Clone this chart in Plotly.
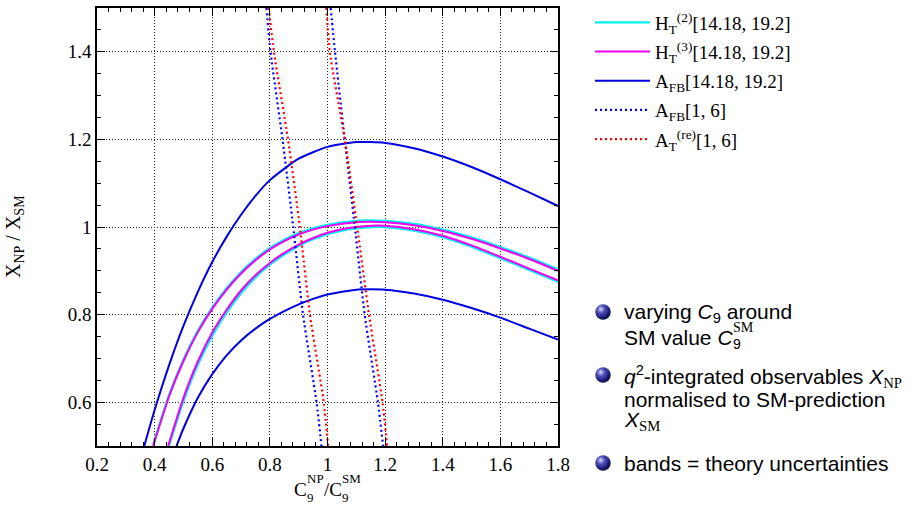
import base64
import plotly.graph_objects as go

# ---------------- data ----------------
# H_T^(3)[14.18, 19.2] band (magenta)
ht3_up_x = [0.395, 0.45, 0.50, 0.55, 0.60, 0.65, 0.70, 0.75, 0.80, 0.85, 0.90, 0.95, 1.00,
            1.10, 1.15, 1.20, 1.30, 1.40, 1.50, 1.60, 1.70, 1.80]
ht3_up_y = [0.500, 0.613, 0.694, 0.760, 0.813, 0.857, 0.894, 0.924, 0.949, 0.968, 0.983, 0.994, 1.002,
            1.011, 1.012, 1.011, 1.004, 0.991, 0.973, 0.951, 0.927, 0.900]
ht3_lo_x = [0.447, 0.50, 0.55, 0.60, 0.65, 0.70, 0.75, 0.80, 0.85, 0.90, 0.95, 1.00, 1.05,
            1.10, 1.15, 1.20, 1.30, 1.40, 1.50, 1.60, 1.70, 1.80]
ht3_lo_y = [0.500, 0.610, 0.693, 0.759, 0.811, 0.855, 0.890, 0.918, 0.941, 0.960, 0.975, 0.987, 0.995,
            1.000, 1.003, 1.003, 0.995, 0.980, 0.958, 0.932, 0.905, 0.878]

# H_T^(2)[14.18, 19.2] band (cyan, marginally wider than the magenta one)
ht2_up_x = ht3_up_x
ht2_up_y = [0.503, 0.616, 0.697, 0.763, 0.816, 0.860, 0.897, 0.927, 0.952, 0.971, 0.986, 0.997, 1.005,
            1.014, 1.015, 1.014, 1.007, 0.994, 0.976, 0.954, 0.930, 0.903]
ht2_lo_x = ht3_lo_x
ht2_lo_y = [0.495, 0.603, 0.686, 0.752, 0.805, 0.849, 0.885, 0.914, 0.937, 0.957, 0.972, 0.984, 0.992,
            0.997, 1.000, 1.000, 0.992, 0.977, 0.955, 0.929, 0.902, 0.875]

# A_FB[14.18, 19.2] band (blue solid)
afbh_up_x = [0.364, 0.40, 0.45, 0.50, 0.55, 0.60, 0.65, 0.70, 0.75, 0.80, 0.90, 1.00,
             1.10, 1.20, 1.30, 1.40, 1.50, 1.60, 1.70, 1.80]
afbh_up_y = [0.500, 0.582, 0.684, 0.774, 0.852, 0.920, 0.978, 1.028, 1.071, 1.107, 1.156, 1.183,
             1.194, 1.192, 1.180, 1.161, 1.137, 1.109, 1.079, 1.048]
afbh_lo_x = [0.476, 0.50, 0.55, 0.60, 0.65, 0.70, 0.75, 0.80, 0.85, 0.90, 0.95, 1.00,
             1.10, 1.15, 1.20, 1.30, 1.40, 1.50, 1.60, 1.70, 1.80]
afbh_lo_y = [0.500, 0.540, 0.610, 0.664, 0.707, 0.741, 0.768, 0.790, 0.808, 0.8235, 0.836, 0.846,
             0.857, 0.858, 0.857, 0.848, 0.834, 0.815, 0.793, 0.768, 0.743]

# A_FB[1, 6] band (blue dotted)
afbl_a_x = [0.788, 0.802, 0.844, 0.881, 0.915, 0.962, 0.979]
afbl_a_y = [1.50, 1.40, 1.20, 1.00, 0.80, 0.60, 0.50]
afbl_b_x = [1.011, 1.026, 1.060, 1.095, 1.129, 1.175, 1.193]
afbl_b_y = [1.50, 1.40, 1.20, 1.00, 0.80, 0.60, 0.50]

# A_T^(re)[1, 6] band (red dotted)
atre_a_x = [0.796, 0.814, 0.863, 0.904, 0.939, 0.987, 1.002]
atre_a_y = [1.50, 1.40, 1.20, 1.00, 0.80, 0.60, 0.50]
atre_b_x = [0.996, 1.008, 1.060, 1.103, 1.144, 1.191, 1.207]
atre_b_y = [1.50, 1.40, 1.20, 1.00, 0.80, 0.60, 0.50]

legend_names = [
    "H<sub>T</sub><sup>(2)</sup>[14.18, 19.2]",
    "H<sub>T</sub><sup>(3)</sup>[14.18, 19.2]",
    "A<sub>FB</sub>[14.18, 19.2]",
    "A<sub>FB</sub>[1, 6]",
    "A<sub>T</sub><sup>(re)</sup>[1, 6]",
]

x_range = [0.2, 1.8]
y_range = [0.5, 1.5]

# ---------------- layout geometry ----------------
W, H = 912, 508
L, R, T, B = 97, 354, 8, 62
PW = W - L - R
PH = H - T - B


def fx(px):
    return (px - L) / PW


def fy(py):
    return (H - B - py) / PH


SERIF = "Liberation Serif, Times New Roman, serif"
SANS = "Liberation Sans, Arial, sans-serif"

CYAN = "#00f0f0"
MAGENTA = "#f000f0"
BLUE = "#0000e0"
DBLUE = "#0000ff"
RED = "#ff0000"

fig = go.Figure()


def add_band(xs1, ys1, xs2, ys2, name, color, width, dash, group):
    for i, (xs, ys) in enumerate(((xs1, ys1), (xs2, ys2))):
        fig.add_trace(go.Scatter(x=xs, y=ys, mode="lines", name=name, legendgroup=group,
                                 showlegend=(i == 0),
                                 line=dict(color=color, width=width, dash=dash, shape="spline", smoothing=0.6),
                                 hoverinfo="skip"))


add_band(ht2_up_x, ht2_up_y, ht2_lo_x, ht2_lo_y, legend_names[0], CYAN, 2.4, "solid", "g1")
add_band(ht3_up_x, ht3_up_y, ht3_lo_x, ht3_lo_y, legend_names[1], MAGENTA, 2.0, "solid", "g2")
add_band(afbh_up_x, afbh_up_y, afbh_lo_x, afbh_lo_y, legend_names[2], BLUE, 2.0, "solid", "g3")
add_band(afbl_a_x, afbl_a_y, afbl_b_x, afbl_b_y, legend_names[3], DBLUE, 2.2, "2px,3px", "g4")
add_band(atre_a_x, atre_a_y, atre_b_x, atre_b_y, legend_names[4], RED, 2.2, "2px,3px", "g5")

axis_common = dict(
    showline=True, linecolor="black", linewidth=1.5, mirror="ticks",
    ticks="inside", ticklen=8, tickwidth=1, tickcolor="black",
    showgrid=True, gridcolor="#222222", gridwidth=1, griddash="1px,2px",
    zeroline=False, tickfont=dict(family=SERIF, size=19, color="black"),
)

# shaded sphere used as bullet point
sphere_svg = (
    "<svg xmlns='http://www.w3.org/2000/svg' width='64' height='64' viewBox='0 0 64 64'>"
    "<defs><radialGradient id='g' cx='0.36' cy='0.32' r='0.72'>"
    "<stop offset='0' stop-color='#d8d8ff'/>"
    "<stop offset='0.35' stop-color='#5050b8'/>"
    "<stop offset='0.75' stop-color='#1c1c78'/>"
    "<stop offset='1' stop-color='#08083a'/>"
    "</radialGradient></defs>"
    "<circle cx='32' cy='32' r='31' fill='url(#g)'/></svg>"
)
sphere_src = "data:image/svg+xml;base64," + base64.b64encode(sphere_svg.encode()).decode()
bullet_centers = [(603, 312), (603, 375), (603, 463)]
BD = 16
images = [dict(source=sphere_src, xref="paper", yref="paper",
               x=fx(cx - BD / 2), y=fy(cy - BD / 2), sizex=BD / PW, sizey=BD / PH,
               xanchor="left", yanchor="top", sizing="stretch", layer="above")
          for cx, cy in bullet_centers]

fig.update_layout(
    width=W, height=H,
    margin=dict(l=L, r=R, t=T, b=B, autoexpand=False),
    paper_bgcolor="white", plot_bgcolor="white",
    xaxis=dict(range=x_range, tick0=0.2, dtick=0.2,
               minor=dict(dtick=0.04, ticks="inside", ticklen=4, tickcolor="black", showgrid=False),
               **axis_common),
    yaxis=dict(range=y_range, tick0=0.2, dtick=0.2,
               minor=dict(dtick=0.05, ticks="inside", ticklen=4, tickcolor="black", showgrid=False),
               **axis_common),
    showlegend=True,
    legend=dict(x=fx(590), y=1.0 - 3.5 / H, yref="container", xanchor="left", yanchor="top",
                font=dict(family=SERIF, size=19, color="black"),
                bgcolor="rgba(0,0,0,0)", tracegroupgap=1.5, itemwidth=55),
    images=images,
)

ann = []


def text(px, py, s, size, family, xanchor="left", yanchor="middle", angle=0):
    ann.append(dict(x=fx(px), y=fy(py), xref="paper", yref="paper", text=s, showarrow=False,
                    xanchor=xanchor, yanchor=yanchor, textangle=angle,
                    font=dict(family=family, size=size, color="black")))


# y-axis title
text(15, 237, "X<sub>NP</sub> / X<sub>SM</sub>", 20, SERIF, xanchor="center", angle=-90)

# x-axis title with stacked scripts
text(292, 489, "C", 19, SERIF)
text(305, 497, "9", 13, SERIF)
text(305, 478, "NP", 13, SERIF)
text(322, 489, "/C", 19, SERIF)
text(340, 497, "9", 13, SERIF)
text(340, 478, "SM", 13, SERIF)

# bullet texts
text(622, 313, "varying <i>C</i><sub>9</sub> around", 21, SANS)
text(622, 337, "SM value <i>C</i>", 21, SANS)
text(731, 344, "9", 14, SANS)
text(731, 327, "SM", 14, SERIF)
text(622, 376, "<i>q</i><sup>2</sup>-integrated observables <i>X</i>"
               "<sub><span style='font-family:Liberation Serif'>NP</span></sub>", 21, SANS)
text(622, 399, "normalised to SM-prediction", 21, SANS)
text(622, 421, "<i>X</i><sub><span style='font-family:Liberation Serif'>SM</span></sub>", 21, SANS)
text(622, 463, "bands = theory uncertainties", 21, SANS)

fig.update_layout(annotations=ann)

fig.write_html("out.html")
